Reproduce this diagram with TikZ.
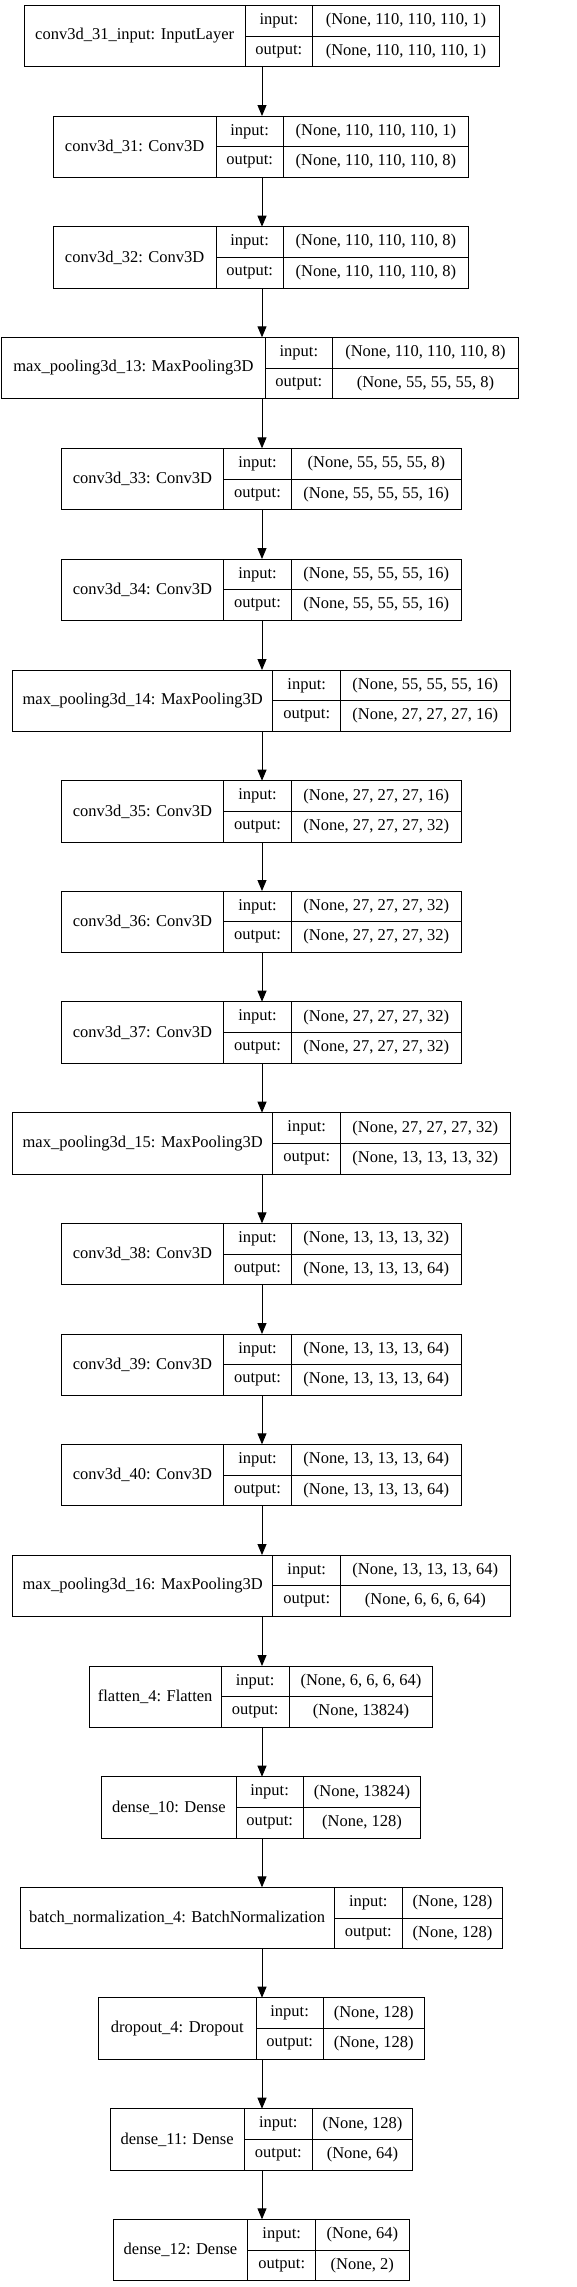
\documentclass[tikz,border=0pt]{standalone}
\usepackage{fontspec}
\setmainfont{Liberation Serif}
\usepackage{tikz}
\usetikzlibrary{arrows.meta,positioning}

% one layer: name, top, x edges (4), label, input shape, output shape
\newcommand{\layerbox}[9]{%
  \node[namecell, minimum width={#4pt-#3pt}] (#1) at (#3,-#2) {#7};
  \node[halfcell, minimum width={#5pt-#4pt}] (#1in) at (#1.north east) {input:};
  \node[halfcell, minimum width={#5pt-#4pt}] (#1out) at (#1in.south west) {output:};
  \node[halfcell, minimum width={#6pt-#5pt}] (#1ish) at (#1in.north east) {#8};
  \node[halfcell, minimum width={#6pt-#5pt}] (#1osh) at (#1out.north east) {#9};
}

\tikzset{
  cell/.style={draw, line width=0.8pt, inner sep=0pt, outer sep=0pt, anchor=north west,
    font=\fontsize{16.5}{18}\selectfont},
  namecell/.style={cell, minimum height=61.3pt},
  halfcell/.style={cell, minimum height=30.65pt},
  flow/.style={line width=0.9pt, -{Triangle[length=11pt, width=9pt]}}
}

\begin{document}
\begin{tikzpicture}[x=1pt, y=1pt]
  \useasboundingbox (0,0) rectangle (576,-2287);
  \fill[white] (0,0) rectangle (576,-2287);
  \coordinate (axis) at (262,0);

  \layerbox{inp}{5.3}{24.3}{245}{312.7}{499.3}{conv3d\_31\_input: InputLayer}{(None, 110, 110, 110, 1)}{(None, 110, 110, 110, 1)}
  \layerbox{c31}{116}{53.3}{216}{283.3}{468.5}{conv3d\_31: Conv3D}{(None, 110, 110, 110, 1)}{(None, 110, 110, 110, 8)}
  \layerbox{c32}{226.7}{53.3}{216}{283.3}{468.5}{conv3d\_32: Conv3D}{(None, 110, 110, 110, 8)}{(None, 110, 110, 110, 8)}
  \layerbox{mp13}{337.3}{1.7}{265}{332.7}{518.3}{max\_pooling3d\_13: MaxPooling3D}{(None, 110, 110, 110, 8)}{(None, 55, 55, 55, 8)}
  \layerbox{c33}{448.3}{61.7}{223.3}{291.7}{461}{conv3d\_33: Conv3D}{(None, 55, 55, 55, 8)}{(None, 55, 55, 55, 16)}
  \layerbox{c34}{559}{61.7}{223.3}{291.7}{461}{conv3d\_34: Conv3D}{(None, 55, 55, 55, 16)}{(None, 55, 55, 55, 16)}
  \layerbox{mp14}{670}{12.7}{272.7}{340.7}{510}{max\_pooling3d\_14: MaxPooling3D}{(None, 55, 55, 55, 16)}{(None, 27, 27, 27, 16)}
  \layerbox{c35}{780.7}{61.7}{223.3}{291.7}{461}{conv3d\_35: Conv3D}{(None, 27, 27, 27, 16)}{(None, 27, 27, 27, 32)}
  \layerbox{c36}{891}{61.7}{223.3}{291.7}{461}{conv3d\_36: Conv3D}{(None, 27, 27, 27, 32)}{(None, 27, 27, 27, 32)}
  \layerbox{c37}{1001.7}{61.7}{223.3}{291.7}{461}{conv3d\_37: Conv3D}{(None, 27, 27, 27, 32)}{(None, 27, 27, 27, 32)}
  \layerbox{mp15}{1112.7}{12.7}{272.7}{340.7}{510}{max\_pooling3d\_15: MaxPooling3D}{(None, 27, 27, 27, 32)}{(None, 13, 13, 13, 32)}
  \layerbox{c38}{1223.3}{61.7}{223.3}{291.7}{461}{conv3d\_38: Conv3D}{(None, 13, 13, 13, 32)}{(None, 13, 13, 13, 64)}
  \layerbox{c39}{1334}{61.7}{223.3}{291.7}{461}{conv3d\_39: Conv3D}{(None, 13, 13, 13, 64)}{(None, 13, 13, 13, 64)}
  \layerbox{c40}{1444.3}{61.7}{223.3}{291.7}{461}{conv3d\_40: Conv3D}{(None, 13, 13, 13, 64)}{(None, 13, 13, 13, 64)}
  \layerbox{mp16}{1555}{12.7}{272.7}{340.7}{510}{max\_pooling3d\_16: MaxPooling3D}{(None, 13, 13, 13, 64)}{(None, 6, 6, 6, 64)}
  \layerbox{fl4}{1666}{89.3}{221}{289.3}{432.7}{flatten\_4: Flatten}{(None, 6, 6, 6, 64)}{(None, 13824)}
  \layerbox{d10}{1776.7}{101.7}{236}{303.3}{420.7}{dense\_10: Dense}{(None, 13824)}{(None, 128)}
  \layerbox{bn4}{1887.3}{20}{334.3}{402.3}{502.7}{batch\_normalization\_4: BatchNormalization}{(None, 128)}{(None, 128)}
  \layerbox{dr4}{1997.7}{98.7}{256}{323.3}{424}{dropout\_4: Dropout}{(None, 128)}{(None, 128)}
  \layerbox{d11}{2108.7}{110}{244.3}{312.3}{412.7}{dense\_11: Dense}{(None, 128)}{(None, 64)}
  \layerbox{d12}{2219.3}{113.3}{247.7}{315.7}{409}{dense\_12: Dense}{(None, 64)}{(None, 2)}

  \foreach \a/\b in {inp/c31, c31/c32, c32/mp13, mp13/c33, c33/c34, c34/mp14, mp14/c35,
      c35/c36, c36/c37, c37/mp15, mp15/c38, c38/c39, c39/c40, c40/mp16, mp16/fl4,
      fl4/d10, d10/bn4, bn4/dr4, dr4/d11, d11/d12}
    \draw[flow] (\a.south -| axis) -- (\b.north -| axis);
\end{tikzpicture}
\end{document}
